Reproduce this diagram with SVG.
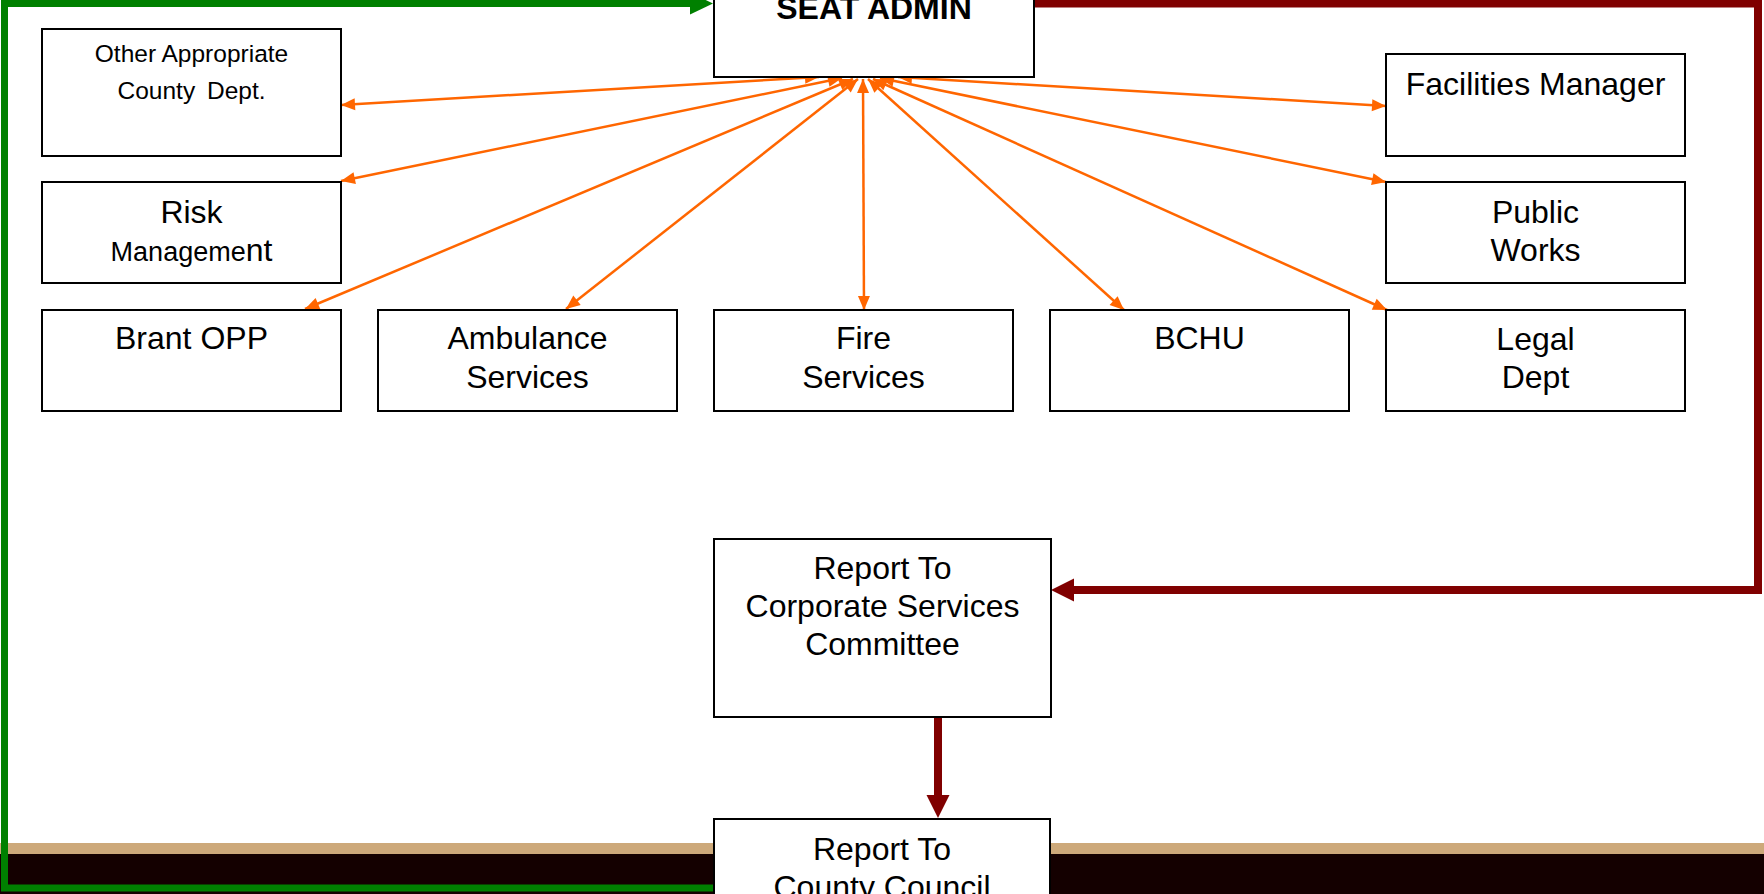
<svg xmlns="http://www.w3.org/2000/svg" width="1764" height="894" viewBox="0 0 1764 894">
<style>
.box{fill:#fff;stroke:#000;stroke-width:2}
.t{font-family:"Liberation Sans",Arial,sans-serif;font-size:32px;fill:#000;text-anchor:middle}
.b{font-weight:bold}
.o{stroke:#FF6600;stroke-width:2.5;fill:none;marker-start:url(#ah);marker-end:url(#ah)}
.g{stroke:#008000;stroke-width:7;fill:none}
.r{stroke:#800000;stroke-width:8;fill:none}
</style>
<defs>
<marker id="ah" markerUnits="userSpaceOnUse" markerWidth="15" markerHeight="13" refX="14" refY="6" orient="auto-start-reverse" overflow="visible">
<path d="M0,0 L14,6 L0,12 z" fill="#FF6600"/>
</marker>
<marker id="gh" markerUnits="userSpaceOnUse" markerWidth="24" markerHeight="24" refX="0" refY="11" orient="auto" overflow="visible">
<path d="M0,0 L23,11 L0,22 z" fill="#008000"/>
</marker>
<marker id="rh" markerUnits="userSpaceOnUse" markerWidth="24" markerHeight="24" refX="0" refY="11.5" orient="auto" overflow="visible">
<path d="M0,0 L23,11.5 L0,23 z" fill="#800000"/>
</marker>
</defs>
<rect width="1764" height="894" fill="#fff"/>
<g id="footer">
<rect x="0" y="843" width="1764" height="11" fill="#CDA97A"/>
<rect x="0" y="854" width="1764" height="40" fill="#140000"/>
</g>
<g id="connectors">
<line class="o" x1="341" y1="105" x2="819" y2="77"/>
<line class="o" x1="341" y1="181" x2="842" y2="78"/>
<line class="o" x1="305" y1="309" x2="853" y2="79"/>
<line class="o" x1="566" y1="309" x2="858" y2="79"/>
<line class="o" x1="864" y1="310" x2="863" y2="79"/>
<line class="o" x1="1124" y1="310" x2="868" y2="79"/>
<line class="o" x1="1387" y1="310" x2="873" y2="79"/>
<line class="o" x1="1386" y1="182" x2="880" y2="78"/>
<line class="o" x1="1386" y1="106" x2="898" y2="77"/>
<path class="g" d="M714,888 L4.5,888 L4.5,3.5 L690,3.5" marker-end="url(#gh)"/>
<path class="r" d="M1034,3.5 L1758,3.5 L1758,590 L1074,590" marker-end="url(#rh)"/>
<path class="r" d="M938,717 L938,795" marker-end="url(#rh)"/>
</g>
<g id="seat-admin">
<rect class="box" x="714" y="-10" width="320" height="87"/>
<text class="t b" x="874" y="19">SEAT ADMIN</text>
</g>
<g id="other-dept">
<rect class="box" x="42" y="29" width="299" height="127"/>
<text class="t" style="font-size:24.5px" x="191.5" y="62">Other Appropriate</text>
<text class="t" style="font-size:24.5px;word-spacing:5px" x="191.5" y="99">County Dept.</text>
</g>
<g id="risk">
<rect class="box" x="42" y="182" width="299" height="101"/>
<text class="t" x="191.5" y="223">Risk</text>
<text class="t" x="191.5" y="261"><tspan style="font-size:27px">Manageme</tspan>nt</text>
</g>
<g id="brant-opp">
<rect class="box" x="42" y="310" width="299" height="101"/>
<text class="t" x="191.5" y="349">Brant OPP</text>
</g>
<g id="ambulance">
<rect class="box" x="378" y="310" width="299" height="101"/>
<text class="t" x="527.5" y="349">Ambulance</text>
<text class="t" x="527.5" y="388">Services</text>
</g>
<g id="fire">
<rect class="box" x="714" y="310" width="299" height="101"/>
<text class="t" x="863.5" y="349">Fire</text>
<text class="t" x="863.5" y="388">Services</text>
</g>
<g id="bchu">
<rect class="box" x="1050" y="310" width="299" height="101"/>
<text class="t" x="1199.5" y="349">BCHU</text>
</g>
<g id="facilities">
<rect class="box" x="1386" y="54" width="299" height="102"/>
<text class="t" x="1535.5" y="95">Facilities Manager</text>
</g>
<g id="public-works">
<rect class="box" x="1386" y="182" width="299" height="101"/>
<text class="t" x="1535.5" y="223">Public</text>
<text class="t" x="1535.5" y="261">Works</text>
</g>
<g id="legal">
<rect class="box" x="1386" y="310" width="299" height="101"/>
<text class="t" x="1535.5" y="350">Legal</text>
<text class="t" x="1535.5" y="388">Dept</text>
</g>
<g id="corporate">
<rect class="box" x="714" y="539" width="337" height="178"/>
<text class="t" x="882.5" y="579">Report To</text>
<text class="t" x="882.5" y="617">Corporate Services</text>
<text class="t" x="882.5" y="655">Committee</text>
</g>
<g id="council">
<rect class="box" x="714" y="819" width="336" height="100"/>
<text class="t" x="882" y="860">Report To</text>
<text class="t" x="882" y="898">County Council</text>
</g>
</svg>
